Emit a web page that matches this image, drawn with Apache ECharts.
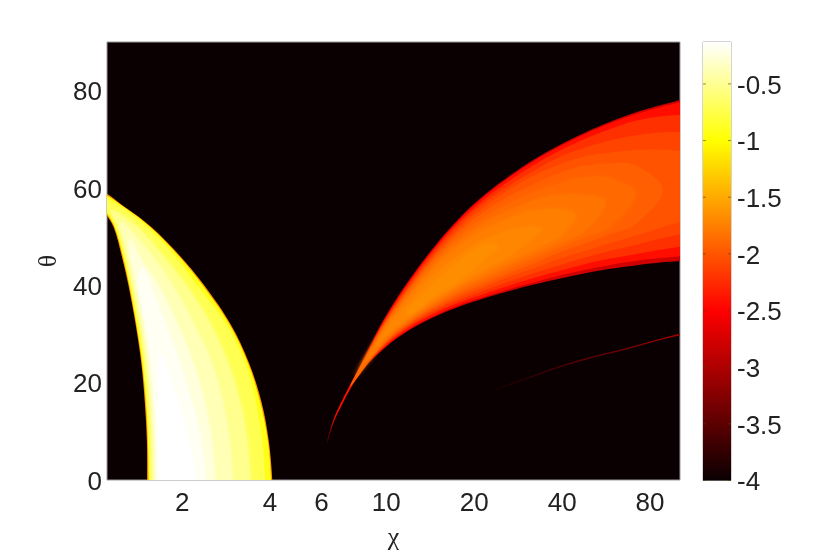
<!DOCTYPE html>
<html>
<head>
<meta charset="utf-8">
<style>html,body{margin:0;padding:0;background:#fff}#c{width:830px;height:553px;filter:blur(0.5px)}</style>
<script src="https://cdn.jsdelivr.net/npm/echarts@6/dist/echarts.min.js"></script>
</head>
<body>
<div id="c"></div>
<script>
// colour scale
const hotValues = [-4, -2.5, -1, -0.13];
const hotColors = [[10, 0, 2], [255, 0, 0], [255, 255, 0], [255, 255, 255]];
// axes
const chiTicks = [2, 4, 6, 10, 20, 40, 80];
const thetaTicks = [0, 20, 40, 60, 80];
const barTicks = [-4, -3.5, -3, -2.5, -2, -1.5, -1, -0.5];

// left lobe: iso-contours of the colour value
const leftThetas = [0, 8, 16, 24, 32, 40, 46, 52, 56];
const leftLevels = [-1.6, -0.92, -0.72, -0.52, -0.38, -0.25, -0.17, -0.13];
const leftLow = [
  [1.518, 1.515, 1.49, 1.45, 1.386, 1.31, 1.243, 1.165, 1.07],
  [1.535, 1.527, 1.503, 1.46, 1.395, 1.32, 1.254, 1.175, 1.08],
  [1.553, 1.545, 1.52, 1.477, 1.414, 1.333, 1.27, 1.19, 1.10],
  [1.578, 1.57, 1.545, 1.50, 1.437, 1.354, 1.29, 1.21],
  [1.603, 1.595, 1.57, 1.525, 1.46, 1.375, 1.31, 1.229],
  [1.63, 1.62, 1.595, 1.55, 1.48, 1.40, 1.327],
  [1.647, 1.64, 1.613, 1.567, 1.50, 1.414],
  [1.67, 1.657, 1.65, 1.67]
];
const leftHigh = [
  [4.07, 3.96, 3.74, 3.39, 2.93, 2.38, 1.97, 1.567, 1.28],
  [4.03, 3.93, 3.70, 3.36, 2.90, 2.35, 1.95, 1.553, 1.27],
  [3.85, 3.76, 3.58, 3.29, 2.83, 2.25, 1.895, 1.518, 1.24],
  [3.42, 3.34, 3.16, 2.87, 2.50, 2.06, 1.72, 1.403],
  [2.97, 2.90, 2.75, 2.52, 2.19, 1.851, 1.58, 1.30],
  [2.58, 2.52, 2.38, 2.18, 1.923, 1.657, 1.425],
  [2.40, 2.32, 2.16, 1.97, 1.751, 1.555],
  [2.23, 2.11, 1.94, 1.751]
];
const leftTips = [[1.05, 59.4], [1.05, 58.9], [1.05, 58.2], [1.14, 55.5], [1.23, 53], [1.33, 49.5], [1.46, 43.5], [1.665, 26]];

// right lobe: iso-contours of the colour value
const rightChi = [6.68, 8.14, 9.91, 12.07, 14.71, 17.91, 21.81, 26.57, 32.36, 39.4, 48, 58.5, 71.2, 86.7, 101.3, 112.5];
const rightLevels = [-2.8, -2.42, -2.22, -2.1, -2.01, -1.94, -1.88, -1.82, -1.76, -1.71, -1.67];
const rightFirstColumn = [0, 0, 1, 1, 1, 2, 2, 2, 2, 2, 3];
const rightStarts = [[6.26, 7.5], [6.45, 9.9], [6.68, 13], [6.95, 15], [7.14, 16.8], [7.52, 19.2], [7.83, 21.2], [8.14, 22.7], [8.58, 24.6], [9.28, 27.6], [11.76, 34.6]];
const rightEnds = [null, null, null, null, null, [88.6, 59.6], [71.2, 58.9], [56.2, 57.2], [44.4, 54.4], [33.9, 51.7], [24.2, 47.9]];
const rightUpper = [
  [13.3, 23.6, 33.5, 41.4, 48.2, 54.0, 58.7, 62.6, 66.0, 68.9, 71.4, 73.6, 75.5, 77.0, 78.1, 79.1],
  [13.1, 23.3, 33.2, 41.1, 47.9, 53.7, 58.4, 62.3, 65.7, 68.6, 71.1, 73.3, 75.1, 76.6, 77.6, 78.6],
  [23.0, 32.8, 40.7, 47.5, 53.2, 57.8, 61.6, 64.9, 67.7, 70.1, 72.1, 73.8, 74.7, 75.0, 75.2],
  [22.9, 32.5, 40.2, 46.9, 52.6, 57.1, 60.6, 63.7, 66.4, 68.3, 69.8, 70.8, 71.4, 71.5, 71.5],
  [22.8, 32.2, 39.8, 46.4, 51.9, 56.3, 59.8, 62.7, 64.9, 66.5, 67.3, 67.8, 67.9, 67.6, 67.3],
  [32.0, 39.4, 45.9, 51.2, 55.3, 58.5, 61.0, 63.2, 64.6, 65.1, 64.7],
  [31.8, 39.0, 45.3, 50.3, 54.1, 57.0, 59.3, 61.0, 62.2, 62.0],
  [31.5, 38.5, 44.6, 49.3, 52.9, 55.5, 57.5, 58.6, 58.5],
  [31.1, 37.9, 43.8, 48.2, 51.5, 53.8, 55.3, 55.6],
  [30.6, 37.0, 42.4, 46.4, 49.4, 51.4],
  [35.8, 40.7, 45.2, 48.5]
];
const rightLower = [
  [12.6, 21.9, 27.2, 30.9, 33.6, 35.7, 37.4, 38.9, 40.2, 41.4, 42.5, 43.4, 44.1, 44.7, 45.0, 45.3],
  [12.8, 22.1, 27.4, 31.1, 33.8, 36.0, 37.7, 39.3, 40.7, 42.0, 43.2, 44.2, 45.0, 45.6, 46.0, 46.3],
  [22.3, 27.7, 31.5, 34.3, 36.5, 38.3, 40.0, 41.6, 43.0, 44.4, 45.5, 46.4, 47.3, 48.0, 48.5],
  [22.4, 28.0, 31.9, 34.8, 37.1, 39.0, 40.9, 42.6, 44.2, 45.7, 47.1, 48.3, 49.6, 50.5, 51.1],
  [22.5, 28.2, 32.2, 35.2, 37.7, 39.7, 41.8, 43.6, 45.5, 47.1, 48.7, 50.2, 51.8, 53.0, 54.0],
  [28.4, 32.5, 35.6, 38.3, 40.4, 42.6, 44.6, 46.8, 48.6, 50.5, 52.5],
  [28.6, 32.8, 36.0, 38.8, 41.1, 43.4, 45.6, 47.8, 49.9, 52.1],
  [28.8, 33.1, 36.4, 39.4, 41.8, 44.2, 46.5, 48.8, 51.3],
  [29.1, 33.4, 36.9, 40.0, 42.6, 45.1, 47.5, 50.3],
  [29.6, 33.8, 37.4, 40.5, 43.4, 46.2],
  [33.9, 37.9, 41.1, 45.5]
];

// faint streak under the right lobe
const streakChi = [23.3, 30.3, 39.4, 51.3, 66.7, 86.7, 101.3];
const streakTheta = [18.5, 20.9, 23.3, 25.3, 27.0, 28.9, 29.9];
const streakValues = [-3.95, -3.05];

function hot(v) {
  let i = 0;
  while (i < hotValues.length - 2 && v > hotValues[i + 1]) i++;
  const t = Math.max(0, Math.min(1, (v - hotValues[i]) / (hotValues[i + 1] - hotValues[i])));
  const a = hotColors[i], b = hotColors[i + 1];
  return 'rgb(' + [0, 1, 2].map(k => Math.round(a[k] + (b[k] - a[k]) * t)).join(',') + ')';
}

function leftPolygon(i) {
  const lo = leftLow[i], hi = leftHigh[i], pts = [[lo[0], -4]];
  lo.forEach((c, k) => pts.push([c, leftThetas[k]]));
  pts.push(leftTips[i]);
  for (let k = hi.length - 1; k >= 0; k--) pts.push([hi[k], leftThetas[k]]);
  pts.push([hi[0], -4]);
  return pts;
}
function rightPolygon(i) {
  const f = rightFirstColumn[i], pts = [rightStarts[i]];
  rightUpper[i].forEach((t, k) => pts.push([rightChi[f + k], t]));
  if (rightEnds[i]) pts.push(rightEnds[i]);
  for (let k = rightLower[i].length - 1; k >= 0; k--) pts.push([rightChi[f + k], rightLower[i][k]]);
  return pts;
}
function contourSeries(levels, polygon, softFrom) {
  return {
    type: 'custom', xAxisIndex: 0, yAxisIndex: 0, clip: true, silent: true,
    data: levels.map((v, i) => [i, v]),
    encode: { x: 0, y: 1 },
    renderItem: function (params, api) {
      const i = api.value(0);
      const fill = hot(levels[i]);
      return {
        type: 'polygon',
        shape: { points: polygon(i).map(p => api.coord(p)), smooth: 0.35 },
        style: { fill: fill, stroke: null, shadowColor: fill, shadowBlur: i < softFrom ? 0 : 4 }
      };
    }
  };
}

const font = '"Liberation Sans", Arial, sans-serif';
const lowered = { a: { padding: [5, 0, 0, 0], fontFamily: font, fontSize: 26, color: '#222' } };
const chart = echarts.init(document.getElementById('c'), null, { renderer: 'canvas' });
chart.setOption({
  animation: false,
  backgroundColor: '#fff',
  grid: [
    { left: 107, top: 42, width: 573, height: 438, show: true, backgroundColor: hot(-4), borderColor: '#999', borderWidth: 1, outerBoundsMode: 'none' },
    { left: 703, top: 42, width: 28, height: 438.5, show: true, backgroundColor: 'transparent', borderColor: '#aaa', borderWidth: 1, outerBoundsMode: 'none' }
  ],
  xAxis: [
    {
      gridIndex: 0, type: 'log', logBase: 10, min: 1.106, max: 101.3,
      name: 'χ', nameLocation: 'middle', nameGap: 45,
      nameTextStyle: { fontFamily: '"Liberation Serif", serif', fontSize: 26, color: '#222' },
      axisLine: { show: false }, axisTick: { show: false }, splitLine: { show: false }, minorTick: { show: false }, minorSplitLine: { show: false },
      axisLabel: { customValues: chiTicks, margin: 11, fontFamily: font, fontSize: 26, color: '#222', formatter: v => String(Math.round(v)) }
    },
    { gridIndex: 1, type: 'value', min: 0, max: 1, show: false }
  ],
  yAxis: [
    {
      gridIndex: 0, type: 'value', min: 0, max: 90,
      name: 'θ', nameLocation: 'middle', nameGap: 42,
      nameTextStyle: { fontFamily: '"Liberation Serif", serif', fontSize: 26, color: '#222' },
      axisLine: { show: false }, axisTick: { show: false }, splitLine: { show: false },
      axisLabel: { customValues: thetaTicks, margin: 5, rich: lowered, formatter: v => '{a|' + v + '}' }
    },
    {
      gridIndex: 1, type: 'value', min: -4, max: -0.13, position: 'right',
      axisLine: { show: false }, splitLine: { show: false }, axisTick: { show: false },
      axisLabel: { customValues: barTicks, margin: 6, rich: lowered, formatter: v => '{a|' + v + '}' }
    }
  ],
  series: [
    contourSeries(leftLevels, leftPolygon, 3),
    contourSeries(rightLevels, rightPolygon, 6),
    {
      type: 'line', xAxisIndex: 0, yAxisIndex: 0, symbol: 'none', smooth: true, clip: true, silent: true,
      data: streakChi.map((c, i) => [c, streakTheta[i]]),
      lineStyle: {
        width: 1.4,
        color: new echarts.graphic.LinearGradient(0, 0, 1, 0, [
          { offset: 0, color: hot(streakValues[0]) },
          { offset: 1, color: hot(streakValues[1]) }
        ])
      },
      z: 3
    },
    {
      type: 'custom', xAxisIndex: 1, yAxisIndex: 1, silent: true, z: 1,
      data: [[0, -4]],
      encode: { x: 0, y: 1 },
      renderItem: function (params, api) {
        const a = api.coord([0, -0.13]), b = api.coord([1, -4]);
        const span = hotValues[hotValues.length - 1] - hotValues[0];
        return {
          type: 'rect',
          shape: { x: a[0], y: a[1], width: b[0] - a[0], height: b[1] - a[1] },
          style: {
            fill: new echarts.graphic.LinearGradient(0, 1, 0, 0, hotValues.map(v => ({ offset: (v - hotValues[0]) / span, color: hot(v) })))
          }
        };
      }
    },
    {
      type: 'custom', xAxisIndex: 1, yAxisIndex: 1, silent: true, z: 4,
      data: barTicks.map(v => [0, v]),
      encode: { x: 0, y: 1 },
      renderItem: function (params, api) {
        const v = api.value(1), l = api.coord([0, v]), r = api.coord([1, v]);
        const tickStyle = { stroke: 'rgba(90,60,0,0.6)', lineWidth: 1 };
        return {
          type: 'group',
          children: [
            { type: 'line', shape: { x1: l[0], y1: l[1], x2: l[0] + 3, y2: l[1] }, style: tickStyle },
            { type: 'line', shape: { x1: r[0] - 3, y1: r[1], x2: r[0], y2: r[1] }, style: tickStyle }
          ]
        };
      }
    }
  ]
});
</script>
</body>
</html>
